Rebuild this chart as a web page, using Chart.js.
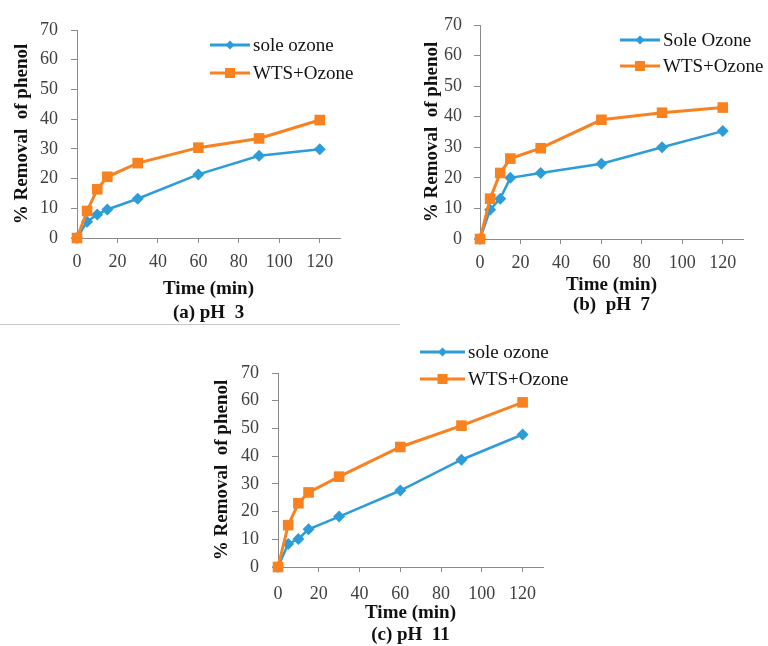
<!DOCTYPE html>
<html>
<head>
<meta charset="utf-8">
<script src="https://cdn.jsdelivr.net/npm/chart.js@4.4.1/dist/chart.umd.min.js"></script>
<style>
  body { margin: 0; background: #fff; }
  #quadro { position: relative; width: 768px; height: 646px; overflow: hidden; background: #fff; }
  .painel { position: absolute; }
  #separador { position: absolute; left: 0; top: 324px; width: 400px; border-top: 1px solid #c8c8c8; }
</style>
</head>
<body>
<div id="quadro">
  <div class="painel" style="left:0;top:0"><canvas id="graficoA" width="400" height="326"></canvas></div>
  <div class="painel" style="left:400px;top:0"><canvas id="graficoB" width="368" height="320"></canvas></div>
  <div class="painel" style="left:200px;top:330px"><canvas id="graficoC" width="400" height="316"></canvas></div>
  <div id="separador"></div>
</div>
<script>
// tempos de coleta (min)
const tempo = [0, 5, 10, 15, 30, 60, 90, 120];
const ticksX = [0, 20, 40, 60, 80, 100, 120];

// % remoção de fenol - pH 3
const soleA = [0, 5.5, 7.9, 9.6, 13.2, 21.4, 27.7, 29.9];
const wtsA = [0, 9.1, 16.4, 20.6, 25.2, 30.4, 33.5, 39.7];

// pH 7
const soleB = [0, 9.6, 13.2, 20.0, 21.6, 24.6, 30.0, 35.3];
const wtsB = [0, 13.2, 21.6, 26.3, 29.7, 39.0, 41.3, 43.0];

// pH 11
const soleC = [0, 8.3, 10.1, 13.6, 18.2, 27.6, 38.7, 47.8];
const wtsC = [0, 15.1, 23.0, 26.9, 32.6, 43.3, 51.0, 59.4];

const corAzul = '#2C9DD9';
const corLaranja = '#F7821F';
const fonte = '"Liberation Serif", "Times New Roman", serif';

// legenda desenhada dentro do gráfico
const legendaManual = {
    id: 'legendaManual',
    afterDatasetsDraw(chart, args, opts) {
        const ctx = chart.ctx;
        ctx.save();
        chart.data.datasets.forEach((ds, i) => {
            const y = opts.y + i * opts.gap;
            ctx.strokeStyle = ds.borderColor;
            ctx.lineWidth = 3;
            ctx.beginPath();
            ctx.moveTo(opts.x, y);
            ctx.lineTo(opts.x + opts.len, y);
            ctx.stroke();
            const mx = opts.x + opts.len / 2;
            ctx.fillStyle = ds.borderColor;
            if (ds.pointStyle === 'rect') {
                ctx.fillRect(mx - 5, y - 5, 10, 10);
            } else {
                ctx.beginPath();
                ctx.moveTo(mx - 4.5, y);
                ctx.lineTo(mx, y - 4.5);
                ctx.lineTo(mx + 4.5, y);
                ctx.lineTo(mx, y + 4.5);
                ctx.closePath();
                ctx.fill();
            }
            ctx.fillStyle = '#111';
            ctx.font = '19px ' + fonte;
            ctx.textBaseline = 'middle';
            ctx.fillText(ds.label, opts.x + opts.len + 3, y + 1);
        });
        ctx.restore();
    }
};

function pontos(valores) {
    return valores.map((v, i) => ({ x: tempo[i], y: v }));
}

function montarGrafico(id, sole, wts, nomeSole, rotulo, g) {
    const ctx = document.getElementById(id);
    return new Chart(ctx, {
        type: 'line',
        data: {
            datasets: [
                {
                    label: nomeSole,
                    data: pontos(sole),
                    borderColor: corAzul,
                    backgroundColor: corAzul,
                    borderWidth: 2.5,
                    pointStyle: 'rectRot',
                    pointRadius: 6,
                    pointBorderWidth: 0,
                    tension: 0,
                    clip: false,
                    order: 2
                },
                {
                    label: 'WTS+Ozone',
                    data: pontos(wts),
                    borderColor: corLaranja,
                    backgroundColor: corLaranja,
                    borderWidth: 3,
                    pointStyle: 'rect',
                    pointRadius: 7.5,
                    pointBorderWidth: 0,
                    tension: 0,
                    clip: false,
                    order: 1
                }
            ]
        },
        options: {
            responsive: false,
            animation: false,
            layout: { padding: { top: g.padTop, right: g.padRight, left: 0, bottom: 0 } },
            plugins: {
                legend: { display: false },
                tooltip: { enabled: false },
                legendaManual: g.legenda
            },
            scales: {
                x: {
                    type: 'linear',
                    min: 0,
                    max: 130,
                    afterBuildTicks: function(scale) {
                        scale.ticks = ticksX.map(v => ({ value: v }));
                    },
                    afterFit: function(scale) { scale.height = g.xAltura; },
                    border: { color: '#8a8a8a', width: 1 },
                    grid: { drawOnChartArea: false, drawTicks: true, tickLength: 5, color: '#8a8a8a' },
                    ticks: {
                        autoSkip: false,
                        maxRotation: 0,
                        padding: g.xTickPad,
                        color: '#404040',
                        font: { family: fonte, size: 18 }
                    },
                    title: {
                        display: true,
                        text: ['Time (min)', rotulo],
                        color: '#111',
                        font: { family: fonte, size: 19, weight: 'bold', lineHeight: g.tituloLH / 19 },
                        padding: { top: 0, bottom: g.tituloPad }
                    }
                },
                y: {
                    min: 0,
                    max: 70,
                    afterFit: function(scale) { scale.width = g.yLargura; },
                    border: { color: '#8a8a8a', width: 1 },
                    grid: { drawOnChartArea: false, drawTicks: true, tickLength: 6, color: '#8a8a8a' },
                    ticks: {
                        stepSize: 10,
                        padding: g.yTickPad,
                        color: '#404040',
                        font: { family: fonte, size: 18 }
                    },
                    title: {
                        display: true,
                        text: '% Removal  of phenol',
                        color: '#111',
                        font: { family: fonte, size: 19, weight: 'bold', lineHeight: 1.2 },
                        padding: { top: g.yTituloPad, bottom: 0 }
                    }
                }
            }
        },
        plugins: [legendaManual]
    });
}

montarGrafico('graficoA', soleA, wtsA, 'sole ozone', '(a) pH  3', {
    padTop: 30, padRight: 60, yLargura: 77, xAltura: 88,
    xTickPad: 8, yTickPad: 13, tituloLH: 24, tituloPad: 1, yTituloPad: 11,
    legenda: { x: 210, y: 45, gap: 28, len: 40 }
});

montarGrafico('graficoB', soleB, wtsB, 'Sole Ozone', '(b)  pH  7', {
    padTop: 25, padRight: 25, yLargura: 80, xAltura: 81,
    xTickPad: 8, yTickPad: 12, tituloLH: 20, tituloPad: 5, yTituloPad: 21,
    legenda: { x: 220, y: 40, gap: 26, len: 40 }
});

montarGrafico('graficoC', soleC, wtsC, 'sole ozone', '(c) pH  11', {
    padTop: 43, padRight: 57, yLargura: 78, xAltura: 79,
    xTickPad: 11, yTickPad: 13, tituloLH: 22, tituloPad: 0, yTituloPad: 11,
    legenda: { x: 220, y: 22, gap: 27, len: 45 }
});
</script>
</body>
</html>
